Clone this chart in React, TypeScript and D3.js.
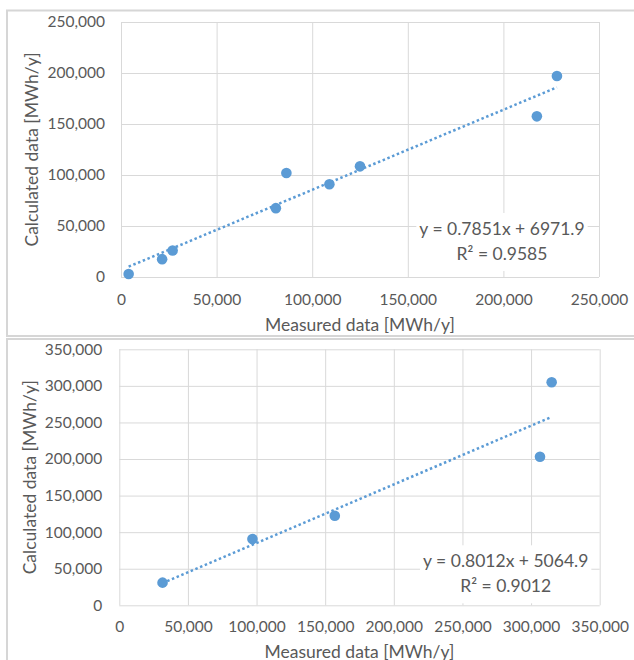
import React, { useEffect, useRef } from 'react';
import * as d3 from 'd3';

// Upper chart
const topMeasured = [4000, 21500, 27000, 81000, 86500, 109000, 125000, 217500, 228000];
const topCalculated = [3000, 17500, 26000, 67500, 102000, 91000, 108500, 157500, 197000];
const topTicks = [0, 50000, 100000, 150000, 200000, 250000];
const topTrend = { slope: 0.7851, intercept: 6971.9, r2: '0.9585', label: 'y = 0.7851x + 6971.9' };

// Lower chart
const bottomMeasured = [31500, 97000, 157000, 306500, 315000];
const bottomCalculated = [31000, 90500, 122500, 203000, 305000];
const bottomTicks = [0, 50000, 100000, 150000, 200000, 250000, 300000, 350000];
const bottomTrend = { slope: 0.8012, intercept: 5064.9, r2: '0.9012', label: 'y = 0.8012x + 5064.9' };

const xTitle = 'Measured data [MWh/y]';
const yTitle = 'Calculated data [MWh/y]';

const FONT = 'Lato, "Open Sans", sans-serif';
const TEXT = '#595959';
const GRID = '#d9d9d9';
const BLUE = '#5b9bd5';

interface PanelConfig {
  measured: number[];
  calculated: number[];
  ticks: number[];
  trend: { slope: number; intercept: number; r2: string; label: string };
  frame: { x: number; y: number; w: number; h: number };
  plot: { left: number; right: number; top: number; bottom: number };
  yPad: number;
  xPad: number;
  yTitleX: number;
  xTitleY: number;
  eqX: number;
  eqY: number;
}

const panels: PanelConfig[] = [
  {
    measured: topMeasured,
    calculated: topCalculated,
    ticks: topTicks,
    trend: topTrend,
    frame: { x: 7, y: 10.5, w: 700, h: 325.5 },
    plot: { left: 121, right: 599, top: 22, bottom: 277 },
    yPad: 16,
    xPad: 17,
    yTitleX: 38,
    xTitleY: 331,
    eqX: 502,
    eqY: 235,
  },
  {
    measured: bottomMeasured,
    calculated: bottomCalculated,
    ticks: bottomTicks,
    trend: bottomTrend,
    frame: { x: 7, y: 339, w: 700, h: 400 },
    plot: { left: 119.3, right: 599.7, top: 349.3, bottom: 605.3 },
    yPad: 17,
    xPad: 16,
    yTitleX: 36,
    xTitleY: 657.5,
    eqX: 505.7,
    eqY: 567.3,
  },
];

function drawPanel(root: d3.Selection<SVGGElement, unknown, null, undefined>, cfg: PanelConfig) {
  const { plot } = cfg;
  const maxV = cfg.ticks[cfg.ticks.length - 1];
  const g = root.append('g');

  g.append('rect')
    .attr('x', cfg.frame.x)
    .attr('y', cfg.frame.y)
    .attr('width', cfg.frame.w)
    .attr('height', cfg.frame.h)
    .attr('fill', '#ffffff')
    .attr('stroke', '#d6d6d6')
    .attr('stroke-width', 2);

  const x = d3.scaleLinear().domain([0, maxV]).range([plot.left, plot.right]);
  const y = d3.scaleLinear().domain([0, maxV]).range([plot.bottom, plot.top]);
  const fmt = d3.format(',');

  // y axis + horizontal grid
  const yAxis = g.append('g')
    .attr('transform', `translate(${plot.left},0)`)
    .call(d3.axisLeft(y).tickValues(cfg.ticks).tickFormat(d => fmt(d as number))
      .tickSize(-(plot.right - plot.left)).tickPadding(cfg.yPad));
  yAxis.select('.domain').remove();
  yAxis.selectAll('line').attr('stroke', GRID);
  yAxis.selectAll('text')
    .attr('fill', TEXT)
    .attr('font-family', FONT)
    .attr('font-size', '15.5px');

  // x axis + vertical grid
  const xAxis = g.append('g')
    .attr('transform', `translate(0,${plot.bottom})`)
    .call(d3.axisBottom(x).tickValues(cfg.ticks).tickFormat(d => fmt(d as number))
      .tickSize(-(plot.bottom - plot.top)).tickPadding(cfg.xPad));
  xAxis.select('.domain').remove();
  xAxis.selectAll('line').attr('stroke', GRID);
  xAxis.selectAll('text')
    .attr('fill', TEXT)
    .attr('font-family', FONT)
    .attr('font-size', '15.5px');

  // axis titles
  g.append('text')
    .attr('x', (plot.left + plot.right) / 2)
    .attr('y', cfg.xTitleY)
    .attr('text-anchor', 'middle')
    .attr('fill', TEXT)
    .attr('font-family', FONT)
    .attr('font-size', '17.5px')
    .text(xTitle);

  g.append('text')
    .attr('transform', `translate(${cfg.yTitleX},${(plot.top + plot.bottom) / 2}) rotate(-90)`)
    .attr('text-anchor', 'middle')
    .attr('fill', TEXT)
    .attr('font-family', FONT)
    .attr('font-size', '17.5px')
    .text(yTitle);

  // trendline over the measured range
  const x0 = d3.min(cfg.measured) as number;
  const x1 = d3.max(cfg.measured) as number;
  const line = d3.line<number>()
    .x(d => x(d))
    .y(d => y(cfg.trend.slope * d + cfg.trend.intercept));
  g.append('path')
    .datum([x0, x1])
    .attr('fill', 'none')
    .attr('stroke', BLUE)
    .attr('stroke-width', 2.5)
    .attr('stroke-dasharray', '2.5 2.6')
    .attr('d', line);

  // points
  g.selectAll('.dot')
    .data(cfg.measured.map((m, i) => [m, cfg.calculated[i]]))
    .enter()
    .append('circle')
    .attr('class', 'dot')
    .attr('cx', d => x(d[0]))
    .attr('cy', d => y(d[1]))
    .attr('r', 5.3)
    .attr('fill', BLUE);

  // equation label with white background
  const eq = g.append('g');
  const bg = eq.append('rect').attr('fill', '#ffffff');
  const t1 = eq.append('text')
    .attr('x', cfg.eqX)
    .attr('y', cfg.eqY)
    .attr('text-anchor', 'middle')
    .attr('fill', TEXT)
    .attr('font-family', FONT)
    .attr('font-size', '17.5px')
    .text(cfg.trend.label);
  eq.append('text')
    .attr('x', cfg.eqX)
    .attr('y', cfg.eqY + 25)
    .attr('text-anchor', 'middle')
    .attr('fill', TEXT)
    .attr('font-family', FONT)
    .attr('font-size', '17.5px')
    .text(`R² = ${cfg.trend.r2}`);
  const w = (t1.node() as SVGTextElement).getComputedTextLength();
  bg.attr('x', cfg.eqX - w / 2 - 3)
    .attr('y', cfg.eqY - 22)
    .attr('width', w + 6)
    .attr('height', 58);
}

const App: React.FC = () => {
  const ref = useRef<SVGGElement>(null);

  useEffect(() => {
    if (!ref.current) return;
    const root = d3.select(ref.current);
    root.selectAll('*').remove();
    panels.forEach(p => drawPanel(root, p));
  }, []);

  return (
    <svg
      width={634}
      height={660}
      style={{ position: 'absolute', left: 0, top: 0, background: '#ffffff' }}
    >
      <g ref={ref} />
    </svg>
  );
};

export default App;
